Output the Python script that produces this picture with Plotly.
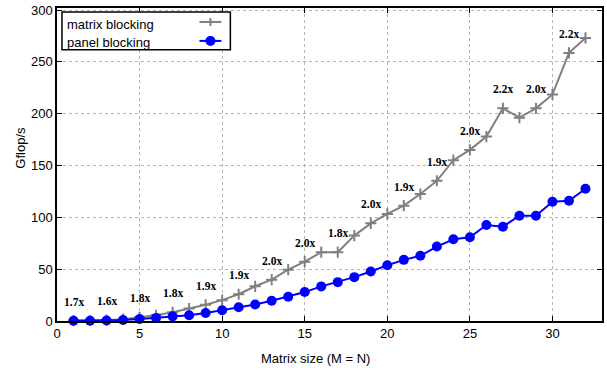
import plotly.graph_objects as go

sizes = list(range(1, 33))
matrix_blocking = [0.4, 0.5, 0.8, 1.8, 3.5, 5.5, 8.4, 12.0, 15.6, 20.1, 25.8, 33.5, 39.9, 49.5, 57.2, 66.4,
                   66.4, 82.4, 94.2, 103.3, 111.3, 122.5, 135.3, 155.2, 165.1, 177.9, 205.2, 196.2, 205.2,
                   218.6, 258.7, 273.1]
panel_blocking = [0.2, 0.3, 0.5, 1.0, 2.0, 3.0, 4.5, 5.5, 7.7, 10.3, 13.2, 16.0, 19.6, 23.4, 27.9, 33.4,
                  37.5, 42.3, 47.8, 53.8, 59.0, 62.9, 71.8, 78.8, 80.8, 92.7, 91.0, 101.6, 101.6, 115.0,
                  116.0, 127.6]
ratio_x = [1, 3, 5, 7, 9, 11, 13, 15, 17, 19, 21, 23, 25, 27, 29, 31]
ratio_labels = ["1.7x", "1.6x", "1.8x", "1.8x", "1.9x", "1.9x", "2.0x", "2.0x", "1.8x", "2.0x",
                "1.9x", "1.9x", "2.0x", "2.2x", "2.0x", "2.2x"]
x_ticks = [0, 5, 10, 15, 20, 25, 30]
y_ticks = [0, 50, 100, 150, 200, 250, 300]

W, H = 607, 370
L, R, T, B = 57, 604, 7, 321
GRAY = "#808080"
BLUE = "#0000ff"
SANS = "Liberation Sans, Arial, sans-serif"

def px(xp):
    return (xp - L) / (R - L)

def py(yp):
    return (B - yp) / (B - T)

fig = go.Figure()
fig.add_trace(go.Scatter(x=sizes, y=matrix_blocking, mode="lines+markers", cliponaxis=False,
                         line=dict(color=GRAY, width=2),
                         marker=dict(symbol="cross-thin", size=8, line=dict(color=GRAY, width=2)),
                         showlegend=False))
fig.add_trace(go.Scatter(x=sizes, y=panel_blocking, mode="lines+markers", cliponaxis=False,
                         line=dict(color=BLUE, width=2),
                         marker=dict(symbol="circle", size=10, color=BLUE),
                         showlegend=False))

ann = []
for xv, lab in zip(ratio_x, ratio_labels):
    ann.append(dict(x=xv, y=matrix_blocking[sizes.index(xv)], text="<b>%s</b>" % lab, showarrow=False,
                    xanchor="center", yanchor="middle", yshift=19,
                    font=dict(family="Liberation Serif, Times New Roman, serif", size=11.5, color="black")))

ann.append(dict(xref="paper", yref="paper", x=px(316), y=py(359), text="Matrix size (M = N)",
                showarrow=False, xanchor="center", yanchor="middle",
                font=dict(family=SANS, size=13, color="black")))
ann.append(dict(xref="paper", yref="paper", x=px(20), y=py(147), text="Gflop/s", textangle=-90,
                showarrow=False, xanchor="center", yanchor="middle",
                font=dict(family=SANS, size=13, color="black")))
# legend text
for yy, t in [(24, "matrix blocking"), (42, "panel blocking")]:
    ann.append(dict(xref="paper", yref="paper", x=px(65), y=py(yy), text=t, showarrow=False,
                    xanchor="left", yanchor="middle", font=dict(family=SANS, size=13, color="black")))

shapes = []
# legend box
shapes.append(dict(type="rect", xref="paper", yref="paper", x0=px(62), x1=px(231), y0=py(49), y1=py(11),
                   line=dict(color="black", width=1.5), fillcolor="white", layer="above"))
shapes.append(dict(type="line", xref="paper", yref="paper", x0=px(200), x1=px(222), y0=py(21), y1=py(21),
                   line=dict(color=GRAY, width=2), layer="above"))
shapes.append(dict(type="line", xref="paper", yref="paper", x0=px(207), x1=px(215), y0=py(21), y1=py(21),
                   line=dict(color=GRAY, width=2), layer="above"))
shapes.append(dict(type="line", xref="paper", yref="paper", x0=px(211), x1=px(211), y0=py(25), y1=py(17),
                   line=dict(color=GRAY, width=2), layer="above"))
shapes.append(dict(type="line", xref="paper", yref="paper", x0=px(200), x1=px(222), y0=py(40), y1=py(40),
                   line=dict(color=BLUE, width=2), layer="above"))
shapes.append(dict(type="circle", xref="paper", yref="paper", x0=px(206), x1=px(216), y0=py(45), y1=py(35),
                   line=dict(color=BLUE, width=0), fillcolor=BLUE, layer="above"))

axis_common = dict(showline=True, linecolor="black", linewidth=1.5, mirror="ticks",
                   ticks="inside", ticklen=5, tickwidth=1, tickcolor="black",
                   showgrid=True, gridcolor="#b4b4b4", griddash="dot", gridwidth=1,
                   zeroline=False, tickfont=dict(family=SANS, size=13, color="black"))

fig.update_layout(
    width=W, height=H,
    margin=dict(l=L, r=W - R, t=T, b=H - B, pad=0),
    paper_bgcolor="white", plot_bgcolor="white",
    xaxis=dict(range=[0, 33], tickvals=x_ticks, ticktext=[str(v) for v in x_ticks], **axis_common),
    yaxis=dict(range=[0, 302], tickvals=y_ticks, ticktext=[str(v) for v in y_ticks], **axis_common),
    annotations=ann, shapes=shapes, showlegend=False,
)
fig.write_html("out.html")
